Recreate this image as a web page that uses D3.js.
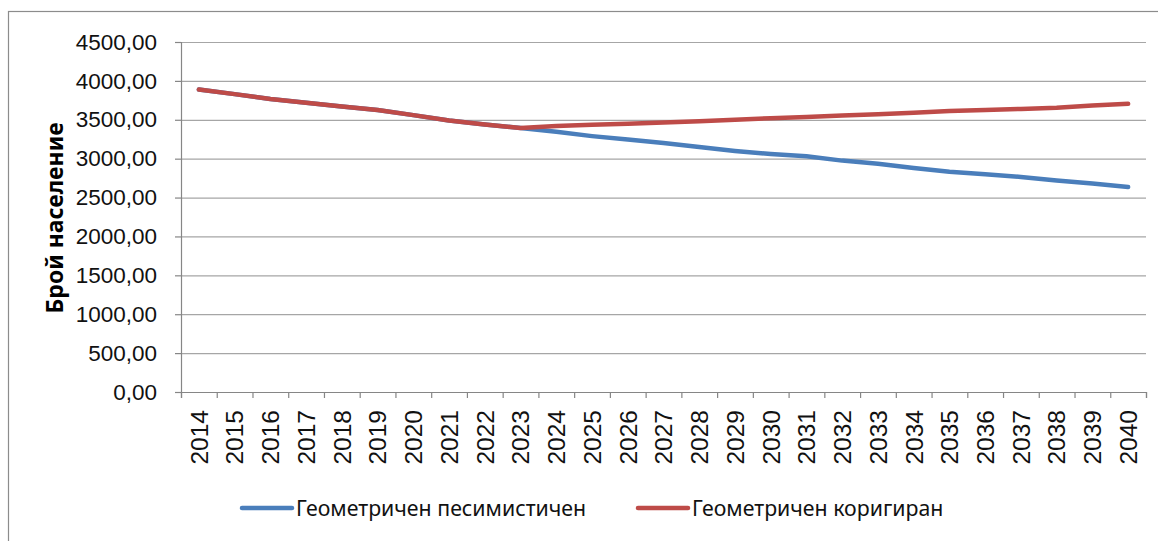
<!DOCTYPE html>
<html>
<head>
<meta charset="utf-8">
<script src="https://cdn.jsdelivr.net/npm/d3@7"></script>
<style>
  body { margin: 0; background: #fff; }
  svg { display: block; font-family: "Noto Sans", "DejaVu Sans", sans-serif; }
  .grid line { stroke: #a6a6a6; stroke-width: 1.2; }
  .grid path { display: none; }
  .axis path, .axis line { stroke: #868686; stroke-width: 1.2; }
  .axis text { fill: #111; }
</style>
</head>
<body>
<svg id="chart" width="1158" height="541"></svg>
<script>
// data
const years = d3.range(2014, 2041).map(String);
const pessimistic = [3890, 3830, 3766, 3718, 3672, 3625, 3560, 3490, 3440, 3395,
  3345, 3290, 3245, 3200, 3150, 3100, 3060, 3030, 2975, 2935, 2880, 2832, 2800, 2765, 2720, 2680, 2635];
const corrected = [3890, 3830, 3766, 3718, 3672, 3625, 3560, 3490, 3440, 3395,
  3420, 3435, 3450, 3465, 3480, 3500, 3520, 3535, 3555, 3570, 3590, 3612, 3625, 3640, 3655, 3685, 3705];
const yTicks = [0, 500, 1000, 1500, 2000, 2500, 3000, 3500, 4000, 4500];
const seriesNames = ["Геометричен песимистичен", "Геометричен коригиран"];
const colors = ["#4a7ebb", "#be4b48"];

const svg = d3.select("#chart");
const mLeft = 181, mRight = 1146, mTop = 42, mBottom = 392;

// outer chart border (right/bottom edges fall outside the picture)
svg.append("rect")
  .attr("x", 8.5).attr("y", 11.5)
  .attr("width", 1200).attr("height", 600)
  .attr("fill", "none").attr("stroke", "#8c8c8c").attr("stroke-width", 1.2);

const x = d3.scaleBand().domain(years).range([mLeft, mRight]).padding(0);
const xEdge = d3.scaleLinear().domain([0, years.length]).range([mLeft, mRight]);
const y = d3.scaleLinear().domain([0, 4500]).range([mBottom, mTop]);

const fmt = d => d3.format(".2f")(d).replace(".", ",");

// gridlines
svg.append("g")
  .attr("class", "grid")
  .attr("transform", `translate(${mLeft},0)`)
  .call(d3.axisLeft(y).tickValues(yTicks.slice(1)).tickSize(-(mRight - mLeft)).tickFormat(""));

// y axis
const yAxis = svg.append("g")
  .attr("class", "axis")
  .attr("transform", `translate(${mLeft},0)`)
  .call(d3.axisLeft(y).tickValues(yTicks).tickSize(6).tickPadding(18).tickFormat(fmt));
yAxis.selectAll("text").style("font-size", "22.5px");

// x axis: ticks between categories
svg.append("g")
  .attr("class", "axis")
  .attr("transform", `translate(0,${mBottom})`)
  .call(d3.axisBottom(xEdge).tickValues(d3.range(years.length + 1)).tickSize(6).tickFormat(""));

const xLab = svg.append("g")
  .attr("class", "axis")
  .attr("transform", `translate(0,${mBottom})`)
  .call(d3.axisBottom(x).tickSize(0));
xLab.select("path").remove();
xLab.selectAll("text")
  .style("font-size", "24.5px")
  .style("text-anchor", "end")
  .attr("transform", "rotate(-90)")
  .attr("x", -18)
  .attr("y", 0)
  .attr("dy", "0.36em");

// y title
svg.append("text")
  .attr("transform", "translate(63,218) rotate(-90)")
  .attr("text-anchor", "middle")
  .style("font-size", "23px")
  .style("font-weight", "bold")
  .text("Брой население");

// lines
const line = d3.line()
  .x((d, i) => x(years[i]) + x.bandwidth() / 2)
  .y(d => y(d));

[pessimistic, corrected].forEach((s, k) => {
  svg.append("path")
    .datum(s)
    .attr("d", line)
    .attr("fill", "none")
    .attr("stroke", colors[k])
    .attr("stroke-width", 4.5)
    .attr("stroke-linecap", "round")
    .attr("stroke-linejoin", "round");
});

// legend
const legendX = [242, 638];
seriesNames.forEach((name, k) => {
  const g = svg.append("g").attr("transform", `translate(${legendX[k]},508)`);
  g.append("line")
    .attr("x1", 0).attr("x2", 50)
    .attr("stroke", colors[k]).attr("stroke-width", 4.5)
    .attr("stroke-linecap", "round");
  g.append("text")
    .attr("x", 54).attr("y", 8)
    .style("font-size", "21.3px")
    .style("fill", "#111")
    .text(name);
});
</script>
</body>
</html>
